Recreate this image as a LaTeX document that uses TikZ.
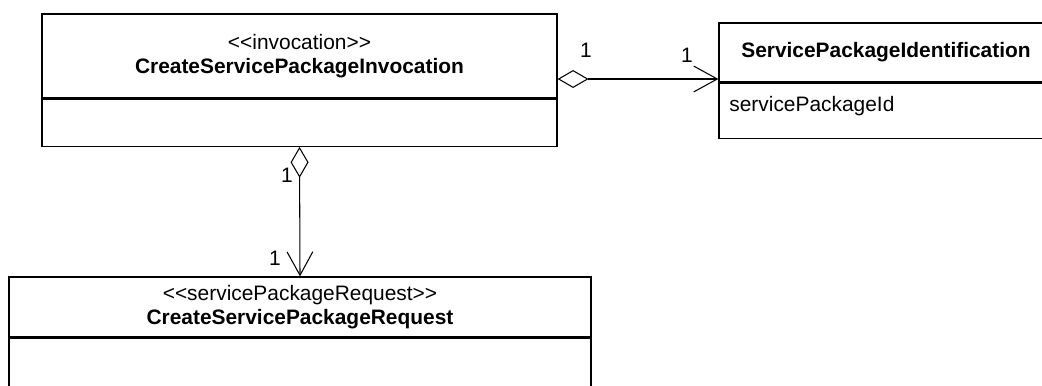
\documentclass[tikz,border=0pt]{standalone}
\usepackage{fontspec}
\setmainfont{Liberation Sans}
\usetikzlibrary{arrows.meta,positioning}
\newcommand{\stereo}[1]{\textless\kern0pt\textless#1\textgreater\kern0pt\textgreater}

\begin{document}
\begin{tikzpicture}[font=\fontsize{11.9}{13.6}\selectfont,
  classhead/.style={draw,line width=0.7pt,inner sep=0pt,align=center},
  classbody/.style={draw,line width=0.7pt,inner sep=0pt},
  aggr/.style={line width=0.6pt,{Diamond[open,length=17.6pt,width=10.2pt]}-{Straight Barb[length=13.4pt,width=14.7pt]}},
  mult/.style={inner sep=0pt}]
\useasboundingbox (0,0) rectangle (20.84,7.70);
\clip (0,0) rectangle (20.84,7.70);
% classes
\node[classhead,minimum width=10.3cm,minimum height=1.68cm] (invocation) at (5.99,6.58)
  {\stereo{invocation}\\\textbf{CreateServicePackageInvocation}};
\node[classbody,minimum width=10.3cm,minimum height=0.94cm,below=0pt of invocation] (invocationBody) {};
\node[classhead,minimum width=6.68cm,minimum height=1.18cm] (ident) at (17.72,6.65)
  {\textbf{ServicePackageIdentification}};
\node[classbody,minimum width=6.68cm,minimum height=1.10cm,below=0pt of ident] (identBody) {};
\node[inner sep=0pt,anchor=base west] (spId) at (14.58,5.46) {servicePackageId};
\node[classhead,minimum width=11.64cm,minimum height=1.20cm] (request) at (6.00,1.56)
  {\stereo{servicePackageRequest}\\\textbf{CreateServicePackageRequest}};
\node[classbody,minimum width=11.64cm,minimum height=1.26cm,below=0pt of request] (requestBody) {};
% associations
\draw[aggr] ([yshift=-0.46cm]invocation.east) coordinate (a1) -- (a1 -| ident.west);
\draw[aggr] (invocationBody.south) -- (request.north);
\node[mult] (m1) at (11.72,6.70) {1};
\node[mult] (m2) at (13.74,6.60) {1};
\node[mult] (m3) at (5.74,4.20) {1};
\node[mult] (m4) at (5.50,2.54) {1};
\end{tikzpicture}
\end{document}
